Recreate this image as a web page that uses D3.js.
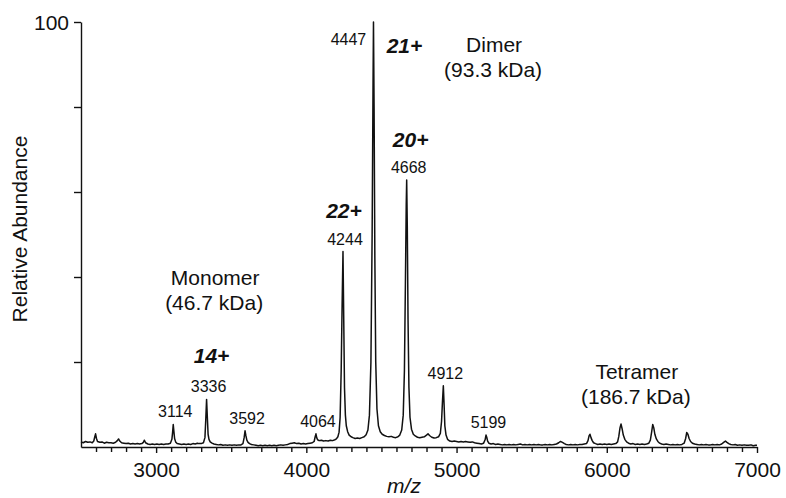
<!DOCTYPE html>
<html>
<head>
<meta charset="utf-8">
<script src="https://cdn.jsdelivr.net/npm/d3@7"></script>
<style>
  html, body { margin: 0; padding: 0; background: #fff; }
  svg { display: block; font-family: "Liberation Sans", Arial, Helvetica, sans-serif; }
</style>
</head>
<body>
<svg id="chart" width="786" height="498"></svg>
<script>
// ESI mass spectrum: [m/z, relative abundance %]
const spectrum = [
  [2500,1.2],[2515,1.0],[2530,1.3],[2545,1.1],[2560,1.2],[2575,1.0],[2585,1.4],[2592,2.4],[2597,3.1],[2603,2.0],
  [2610,1.3],[2625,1.1],[2640,1.2],[2655,0.9],[2670,1.1],[2685,1.0],[2700,1.0],[2715,0.9],[2730,1.1],[2742,1.5],
  [2750,1.9],[2758,1.4],[2770,1.0],[2785,0.9],[2800,0.8],[2815,0.9],[2830,0.7],[2845,0.8],[2860,0.7],[2875,0.8],
  [2890,0.7],[2905,0.8],[2915,1.1],[2922,1.6],[2930,1.0],[2945,0.7],[2960,0.6],[2975,0.7],[2990,0.6],[3005,0.7],
  [3020,0.6],[3035,0.7],[3050,0.6],[3065,0.7],[3080,0.7],[3095,0.9],[3105,1.8],[3110,3.5],[3114,5.3],[3118,3.8],
  [3123,2.0],[3130,1.2],[3140,0.8],[3155,0.7],[3170,0.6],[3185,0.7],[3200,0.6],[3215,0.7],[3230,0.6],[3245,0.8],
  [3260,0.7],[3275,0.9],[3285,0.8],[3300,0.8],[3315,1.0],[3325,2.2],[3330,6.0],[3336,11.2],[3341,7.0],[3346,3.0],
  [3352,1.8],[3360,1.2],[3372,0.9],[3385,0.7],[3400,0.6],[3415,0.5],[3430,0.6],[3445,0.4],[3460,0.5],[3475,0.4],
  [3490,0.5],[3505,0.4],[3520,0.5],[3535,0.4],[3550,0.5],[3565,0.5],[3578,0.8],[3586,2.2],[3592,3.8],[3598,2.6],
  [3604,1.6],[3612,1.1],[3622,0.8],[3635,0.6],[3650,0.5],[3665,0.4],[3680,0.3],[3695,0.4],[3710,0.3],[3725,0.4],
  [3740,0.3],[3755,0.4],[3770,0.3],[3785,0.4],[3800,0.3],[3815,0.4],[3830,0.5],[3845,0.4],[3860,0.5],[3875,0.6],
  [3890,0.8],[3905,0.9],[3920,1.0],[3935,0.8],[3950,0.9],[3965,0.7],[3980,0.8],[3995,0.7],[4010,0.8],[4025,0.9],
  [4040,1.0],[4052,1.3],[4058,2.3],[4064,3.1],[4069,2.2],[4075,1.7],[4085,1.5],[4100,1.6],[4115,1.4],[4130,1.5],
  [4145,1.4],[4160,1.6],[4175,1.5],[4190,1.7],[4200,1.9],[4210,2.4],[4218,3.5],[4225,7.0],[4232,18],[4238,33],
  [4244,46],[4249,30],[4254,14],[4260,7.5],[4266,5.0],[4275,3.6],[4285,2.8],[4298,2.4],[4310,2.2],[4325,2.0],
  [4340,2.1],[4355,2.0],[4370,2.2],[4385,2.4],[4398,2.9],[4410,4.0],[4420,7.5],[4430,20],[4438,50],[4444,85],
  [4447,100],[4451,80],[4456,45],[4462,20],[4470,9.0],[4480,5.0],[4492,3.6],[4505,3.0],[4520,2.7],[4535,2.5],
  [4550,2.4],[4565,2.5],[4580,2.3],[4595,2.2],[4610,2.4],[4622,2.8],[4635,4.0],[4645,7.5],[4653,18],[4660,40],
  [4665,57],[4668,62.8],[4672,52],[4677,30],[4683,14],[4690,7.0],[4700,4.2],[4712,3.0],[4725,2.6],[4740,2.3],
  [4755,2.2],[4770,2.3],[4785,2.4],[4800,2.8],[4810,3.1],[4820,2.7],[4835,2.3],[4850,2.1],[4865,2.2],[4880,2.4],
  [4892,3.2],[4900,6.0],[4906,10.5],[4912,14.4],[4917,10],[4922,5.0],[4930,2.8],[4940,1.8],[4955,1.4],[4970,1.3],
  [4985,1.4],[5000,1.3],[5015,1.2],[5030,1.3],[5045,1.2],[5060,1.3],[5075,1.2],[5090,1.1],[5105,1.2],[5120,1.0],
  [5135,0.9],[5150,0.8],[5165,0.7],[5180,0.9],[5190,1.7],[5196,2.8],[5201,2.3],[5207,1.4],[5215,0.9],[5230,0.7],
  [5245,0.8],[5260,0.6],[5275,0.7],[5290,0.6],[5305,0.5],[5320,0.6],[5335,0.5],[5350,0.6],[5365,0.5],[5380,0.6],
  [5395,0.5],[5410,0.6],[5425,0.7],[5440,0.5],[5455,0.6],[5470,0.5],[5485,0.6],[5500,0.5],[5515,0.6],[5530,0.5],
  [5545,0.6],[5560,0.5],[5575,0.5],[5590,0.6],[5605,0.5],[5620,0.6],[5635,0.5],[5650,0.6],[5665,0.7],[5680,1.0],
  [5692,1.3],[5705,1.1],[5718,0.8],[5730,0.6],[5745,0.5],[5760,0.6],[5775,0.5],[5790,0.6],[5805,0.5],[5820,0.6],
  [5835,0.6],[5850,0.7],[5865,0.8],[5875,1.5],[5882,2.6],[5888,3.0],[5895,2.2],[5903,1.5],[5912,1.0],[5925,0.8],
  [5940,0.6],[5955,0.7],[5970,0.6],[5985,0.7],[6000,0.6],[6015,0.7],[6030,0.6],[6045,0.7],[6060,0.8],[6072,1.2],
  [6080,2.5],[6088,4.5],[6095,5.4],[6102,4.3],[6110,2.8],[6120,1.8],[6132,1.2],[6145,0.9],[6160,0.7],[6175,0.8],
  [6190,0.6],[6205,0.7],[6220,0.6],[6235,0.7],[6250,0.6],[6265,0.7],[6280,0.9],[6290,1.6],[6298,3.4],[6306,5.3],
  [6313,4.5],[6320,3.0],[6330,1.9],[6340,1.3],[6352,0.9],[6365,0.7],[6380,0.6],[6395,0.7],[6410,0.6],[6425,0.5],
  [6440,0.6],[6455,0.5],[6470,0.6],[6485,0.5],[6500,0.6],[6515,0.9],[6525,2.0],[6532,3.4],[6540,3.0],[6548,2.0],
  [6558,1.3],[6570,0.9],[6585,0.7],[6600,0.6],[6615,0.5],[6630,0.6],[6645,0.5],[6660,0.6],[6675,0.5],[6690,0.5],
  [6705,0.6],[6720,0.5],[6735,0.6],[6750,0.5],[6765,0.7],[6778,1.1],[6790,1.4],[6800,1.1],[6812,0.8],[6825,0.6],
  [6840,0.5],[6855,0.6],[6870,0.4],[6885,0.5],[6900,0.4],[6915,0.5],[6930,0.4],[6945,0.4],[6960,0.5],[6975,0.3],
  [6990,0.4],[7000,0.4]
];

// Labelled peaks (m/z)
const peakMz = [3114, 3336, 3592, 4064, 4244, 4447, 4668, 4912, 5199];

// Charge-state assignments
const chargeMz = [3336, 4244, 4447, 4668];
const chargeText = ["14+", "22+", "21+", "20+"];

// Oligomer annotations
const speciesName = ["Monomer", "Dimer", "Tetramer"];
const speciesMass = ["(46.7 kDa)", "(93.3 kDa)", "(186.7 kDa)"];

// Axis ticks
const xMajorTicks = [3000, 4000, 5000, 6000, 7000];
const yTicks = [20, 40, 60, 80, 100];
const yTickLabels = ["", "", "", "", "100"];

const svg = d3.select("#chart");
const x = d3.scaleLinear().domain([2500, 7000]).range([81, 757]);
const y = d3.scaleLinear().domain([0, 100]).range([447, 22]);

const peakHeight = mz => d3.max(spectrum.filter(d => Math.abs(d[0] - mz) <= 3), d => d[1]);

// spectrum trace
svg.append("path")
  .datum(spectrum)
  .attr("fill", "none")
  .attr("stroke", "#111")
  .attr("stroke-width", 1.5)
  .attr("stroke-linejoin", "round")
  .attr("d", d3.line().x(d => x(d[0])).y(d => y(d[1])));

// x axis: minor ticks every 100, labelled ticks every 1000
const minorTicks = d3.range(2600, 7000, 100).filter(v => v % 1000 !== 0);
const xMinor = svg.append("g").attr("transform", `translate(0,${y(0)})`)
  .call(d3.axisBottom(x).tickValues(minorTicks).tickSize(5).tickSizeOuter(0).tickFormat(""));
xMinor.select(".domain").remove();

const xAxis = svg.append("g").attr("transform", `translate(0,${y(0)})`)
  .call(d3.axisBottom(x).tickValues(xMajorTicks).tickSize(6).tickSizeOuter(0).tickFormat(d3.format("d")));
xAxis.selectAll("text").attr("y", 30).attr("dy", 0).attr("font-size", 21).attr("fill", "#111");

const yAxis = svg.append("g").attr("transform", `translate(${x(2500)},0)`)
  .call(d3.axisLeft(y).tickValues(yTicks).tickSize(7).tickSizeOuter(0)
    .tickFormat((d, i) => yTickLabels[i]));
yAxis.selectAll("text").attr("x", -12).attr("dy", "0.38em").attr("font-size", 21).attr("fill", "#111");

svg.selectAll(".domain, .tick line").attr("stroke", "#111").attr("stroke-width", 1.4);
svg.selectAll("g").attr("font-family", null);

// axis titles
svg.append("text")
  .attr("transform", `translate(27,229) rotate(-90)`)
  .attr("text-anchor", "middle")
  .attr("font-size", 21)
  .attr("fill", "#111")
  .text("Relative Abundance");

svg.append("text")
  .attr("x", 404).attr("y", 493)
  .attr("text-anchor", "middle")
  .attr("font-size", 21)
  .attr("font-style", "italic")
  .attr("fill", "#111")
  .text("m/z");

// peak m/z labels, set just above each peak apex
const peakLabelShift = { 4447: [-27, 23] };
svg.append("g").selectAll("text")
  .data(peakMz)
  .join("text")
  .attr("x", d => x(d) + 2 + (peakLabelShift[d] ? peakLabelShift[d][0] : 0))
  .attr("y", d => peakLabelShift[d] ? y(peakHeight(d)) + peakLabelShift[d][1] : y(peakHeight(d)) - 7)
  .attr("text-anchor", "middle")
  .attr("font-size", 16)
  .attr("fill", "#111")
  .text(d => d);

// charge-state labels
const chargePos = {
  "14+": [5, -36],
  "22+": [1, -34],
  "21+": [31, 31],
  "20+": [4, -33]
};
svg.append("g").selectAll("text")
  .data(chargeMz)
  .join("text")
  .attr("x", (d, i) => x(d) + chargePos[chargeText[i]][0])
  .attr("y", (d, i) => y(peakHeight(d)) + chargePos[chargeText[i]][1])
  .attr("text-anchor", "middle")
  .attr("font-size", 21)
  .attr("font-weight", "bold")
  .attr("font-style", "italic")
  .attr("fill", "#111")
  .text((d, i) => chargeText[i]);

// oligomer annotations (anchor in data coordinates)
const speciesAnchor = [[3393, 38.1], [5250, 92.9], [6200, 16.0]];
const speciesG = svg.append("g");
speciesName.forEach((name, i) => {
  const [mx, ab] = speciesAnchor[i];
  speciesG.append("text")
    .attr("x", x(mx)).attr("y", y(ab))
    .attr("text-anchor", "middle").attr("font-size", 21).attr("fill", "#111")
    .text(name);
  speciesG.append("text")
    .attr("x", x(mx) - 1).attr("y", y(ab) + 25)
    .attr("text-anchor", "middle").attr("font-size", 21).attr("fill", "#111")
    .text(speciesMass[i]);
});
</script>
</body>
</html>
